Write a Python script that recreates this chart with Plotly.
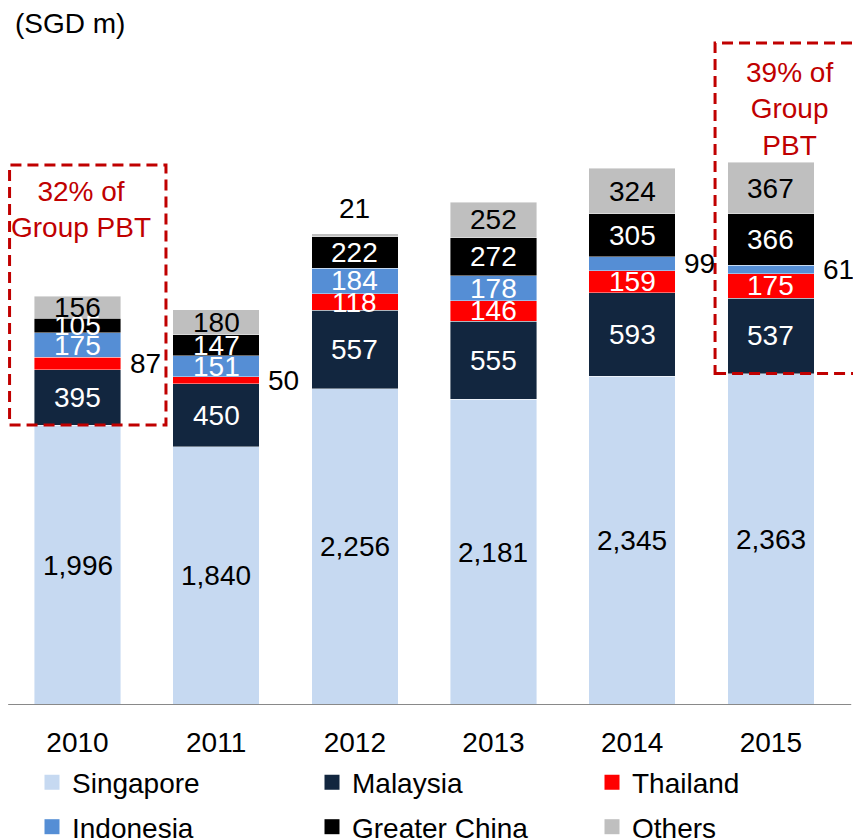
import plotly.graph_objects as go

years = ["2010", "2011", "2012", "2013", "2014", "2015"]
series_names = ["Singapore", "Malaysia", "Thailand", "Indonesia", "Greater China", "Others"]
singapore = [1996, 1840, 2256, 2181, 2345, 2363]
malaysia = [395, 450, 557, 555, 593, 537]
thailand = [87, 50, 118, 146, 159, 175]
indonesia = [175, 151, 184, 178, 99, 61]
greater_china = [105, 147, 222, 272, 305, 366]
others = [156, 180, 21, 252, 324, 367]

series_values = [singapore, malaysia, thailand, indonesia, greater_china, others]
colors = ["#C6D9F1", "#12263F", "#FF0000", "#558ED5", "#000000", "#BFBFBF"]
label_colors = ["#000000", "#FFFFFF", "#FFFFFF", "#FFFFFF", "#FFFFFF", "#000000"]
legend_ids = ["legend", "legend", "legend", "legend2", "legend2", "legend2"]

FONT = "Liberation Sans, Arial, sans-serif"
RED = "#C00000"
FS = 28
W, H = 861, 839
PLOT_H = 665  # plot area height in px


def py(screen_y):
    # paper y from target screen pixel row (page has an 8px body margin)
    return (705 - screen_y) / PLOT_H


def px(screen_x):
    return (screen_x - 8) / W


fig = go.Figure()
for name, vals, col in zip(series_names, series_values, colors):
    fig.add_trace(go.Bar(
        x=years, y=vals, name=name, marker_color=col,
        marker_line_width=0.6, marker_line_color="rgba(255,255,255,0.7)",
        showlegend=False, hoverinfo="x+y+name",
    ))
# legend entries with larger square keys
for name, col, lg in zip(series_names, colors, legend_ids):
    fig.add_trace(go.Scatter(
        x=[None], y=[None], mode="markers", name=name, legend=lg,
        marker=dict(symbol="square", size=15, color=col),
    ))

annotations = []
cum = [0] * len(years)
n_series = len(series_values)
for si, (vals, lc) in enumerate(zip(series_values, label_colors)):
    for i, v in enumerate(vals):
        bottom = cum[i]
        top = cum[i] + v
        cum[i] = top
        txt = f"{v:,}"
        if v >= 100:
            annotations.append(dict(x=i, y=(bottom + top) / 2, text=txt,
                                    showarrow=False, xanchor="center", yanchor="middle",
                                    font=dict(size=FS, color=lc, family=FONT)))
        elif si == n_series - 1:
            annotations.append(dict(x=i, y=top, text=txt, showarrow=False,
                                    xanchor="center", yanchor="bottom", yshift=8,
                                    font=dict(size=FS, color="#000000", family=FONT)))
        else:
            annotations.append(dict(x=i, y=(bottom + top) / 2, text=txt,
                                    showarrow=False, xanchor="left", yanchor="middle",
                                    xshift=50,
                                    font=dict(size=FS, color="#000000", family=FONT)))

annotations.append(dict(x=0.025, y=3529, xref="x", yref="y", text="32% of<br>Group PBT",
                        showarrow=False, xanchor="center", yanchor="middle",
                        font=dict(size=FS, color=RED, family=FONT)))
annotations.append(dict(x=5.138, y=4250, xref="x", yref="y", text="39% of<br>Group<br>PBT",
                        showarrow=False, xanchor="center", yanchor="middle",
                        font=dict(size=FS, color=RED, family=FONT)))
annotations.append(dict(x=px(13), y=py(24), xref="paper", yref="paper", text="(SGD m)",
                        showarrow=False, xanchor="left", yanchor="middle",
                        font=dict(size=FS, color="#000000", family=FONT)))

box_line = dict(color=RED, width=3, dash="11px,6px")
shapes = [
    dict(type="rect", xref="x", yref="y", x0=-0.49, x1=0.638, y0=singapore[0], y1=3850,
         line=box_line, fillcolor="rgba(0,0,0,0)"),
    dict(type="rect", xref="x", yref="y", x0=4.598, x1=5.8, y0=singapore[5], y1=4720,
         line=box_line, fillcolor="rgba(0,0,0,0)"),
    dict(type="line", xref="x", yref="y", x0=-0.5, x1=5.58, y0=0, y1=0,
         line=dict(color="#898989", width=2)),
]

# category centre of 2010 sits at screen x 77.5, spacing 138.66 px
x_min = (8 - 77.5) / 138.66
x_max = x_min + W / 138.66

legend_common = dict(orientation="h", xanchor="left", yanchor="middle",
                     entrywidth=235, entrywidthmode="pixels",
                     font=dict(size=FS, family=FONT), bgcolor="rgba(0,0,0,0)",
                     traceorder="normal")

fig.update_layout(
    width=W, height=H,
    margin=dict(l=0, r=0, t=32, b=142, autoexpand=False),
    paper_bgcolor="white", plot_bgcolor="white",
    barmode="stack", bargap=0.3755,
    font=dict(family=FONT, size=FS, color="#000000"),
    annotations=annotations, shapes=shapes,
    legend=dict(x=px(32), y=py(782.5), **legend_common),
    legend2=dict(x=px(32), y=py(827), **legend_common),
    xaxis=dict(type="category", range=[x_min, x_max], showline=False, showgrid=False,
               zeroline=False, ticks="", tickfont=dict(size=FS, family=FONT),
               ticklabelstandoff=18),
    yaxis=dict(visible=False, range=[0, PLOT_H / 0.14027], showgrid=False, zeroline=False),
)

fig.write_html("out.html")
